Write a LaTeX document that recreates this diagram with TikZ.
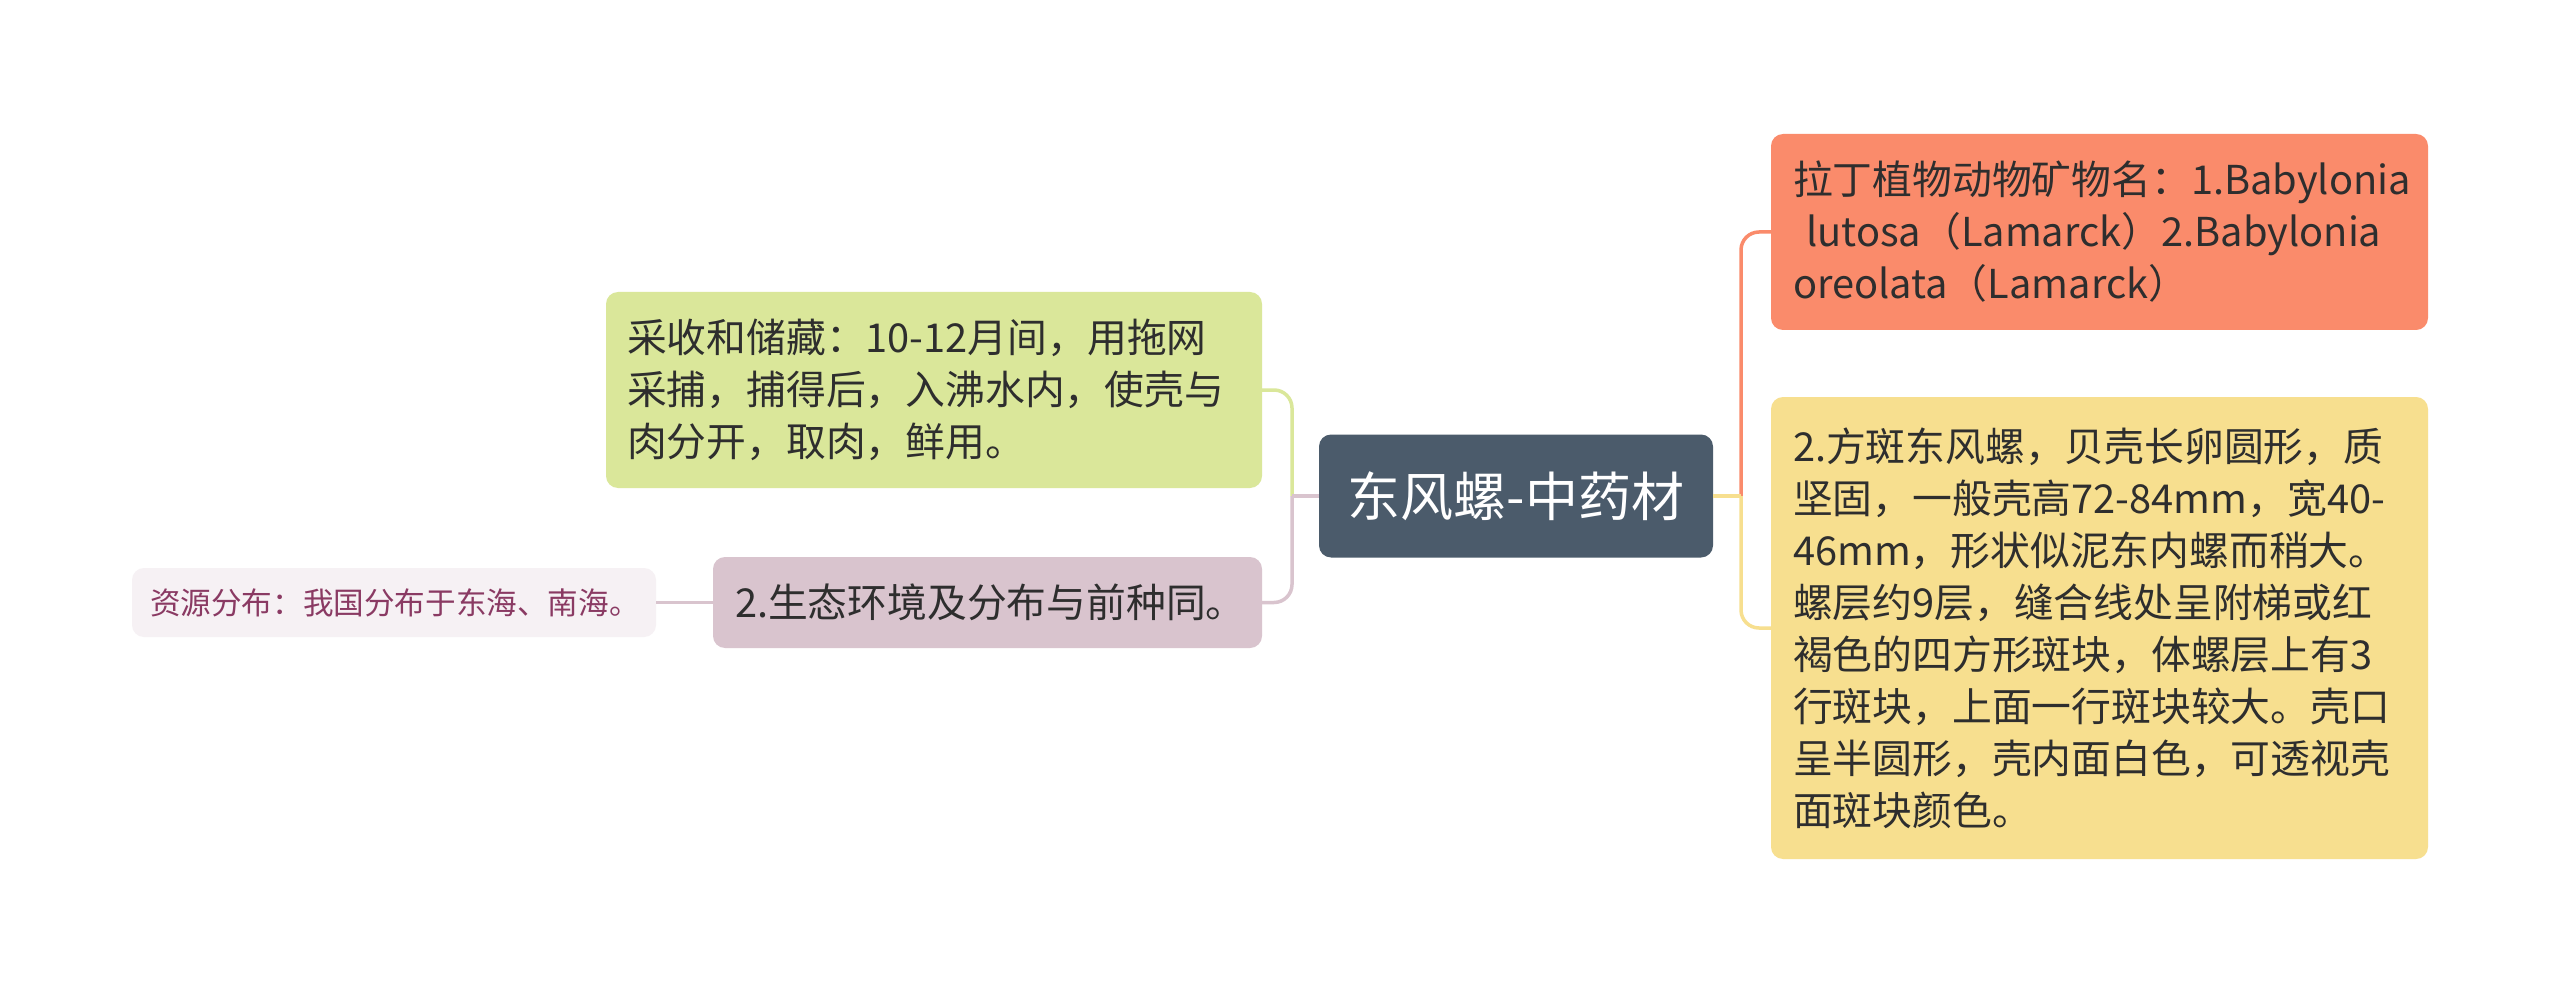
\documentclass[tikz,border=0pt]{standalone}
\usepackage{fontspec}
\newfontfamily\cjk{Noto Sans CJK SC}

\definecolor{corcentro}{HTML}{4B5B6B}
\definecolor{corlaranja}{HTML}{FA8B6B}
\definecolor{coramarelo}{HTML}{F7DF8F}
\definecolor{corverde}{HTML}{DAE79A}
\definecolor{corroxo}{HTML}{D9C4CE}
\definecolor{corclaro}{HTML}{F6F1F4}
\definecolor{textoescuro}{HTML}{2E2E2E}
\definecolor{textovinho}{HTML}{8A3A63}

\begin{document}
\begin{tikzpicture}[x=1pt,y=-1pt,
  caixa/.style={rounded corners=12pt, text=textoescuro, align=left,
    inner xsep=22pt, inner ysep=0pt,
    font=\cjk\fontsize{39.8}{52}\selectfont},
  liga/.style={line width=3.5pt, rounded corners=18pt}]

% Fundo
\useasboundingbox[fill=white]
(0,0) rectangle (2560,992);

% NO CENTRAL
\node[caixa, fill=corcentro, text=white, align=center,
  text width=342pt, minimum height=123pt, inner xsep=26pt,
  font=\cjk\fontsize{53}{60}\selectfont]
(central) at (1516,496)
{东风螺-中药材};

% RAMO DIREITO I
\node[caixa, fill=corlaranja, text width=613pt, minimum height=196pt]
(laranja) at (2099.5,232)
{拉丁植物动物矿物名：1.Babylonia\\
\ lutosa（Lamarck）2.Babylonia\\
oreolata（Lamarck）};

% RAMO DIREITO II
\node[caixa, fill=coramarelo, text width=613pt, minimum height=462pt]
(amarelo) at (2099.5,628)
{2.方斑东风螺，贝壳长卵圆形，质\\
坚固，一般壳高72-84mm，宽40-\\
46mm，形状似泥东内螺而稍大。\\
螺层约9层，缝合线处呈附梯或红\\
褐色的四方形斑块，体螺层上有3\\
行斑块，上面一行斑块较大。壳口\\
呈半圆形，壳内面白色，可透视壳\\
面斑块颜色。};

% RAMO ESQUERDO I
\node[caixa, fill=corverde, text width=614pt, minimum height=196pt,
  inner xsep=21pt]
(verde) at (934,390)
{采收和储藏：10-12月间，用拖网\\
采捕，捕得后，入沸水内，使壳与\\
肉分开，取肉，鲜用。};

% RAMO ESQUERDO II
\node[caixa, fill=corroxo, text width=505pt, minimum height=91pt]
(roxo) at (987.5,602.5)
{2.生态环境及分布与前种同。};

% SUBRAMO
\node[caixa, fill=corclaro, text=textovinho, text width=488pt,
  minimum height=69pt, inner xsep=18pt,
  font=\cjk\fontsize{30.6}{36}\selectfont]
(claro) at (394,602.5)
{资源分布：我国分布于东海、南海。};

% JUNCOES
\coordinate (jdir) at (1741,496);
\coordinate (jesq) at (1292,496);

% LIGACOES DIREITA
\draw[liga, corlaranja]
(jdir) |- (laranja.west);
\draw[liga, coramarelo]
(jdir) |- (amarelo.west);
\draw[liga, coramarelo]
(central.east) -- (jdir);

% LIGACOES ESQUERDA
\draw[liga, corverde]
(jesq) |- (verde.east);
\draw[liga, corroxo]
(jesq) |- (roxo.east);
\draw[liga, corroxo]
(central.west) -- (jesq);
\draw[liga, corroxo]
(roxo.west) -- (claro.east);

\end{tikzpicture}
\end{document}
